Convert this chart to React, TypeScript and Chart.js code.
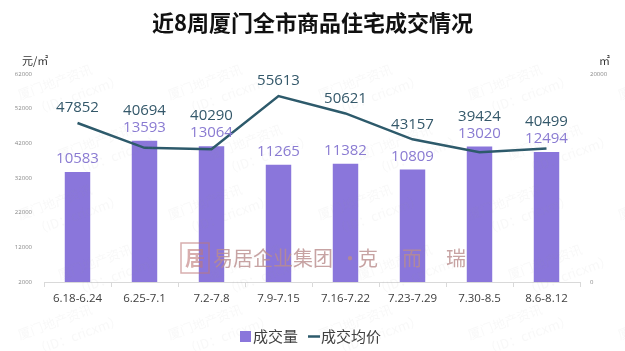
import React, { useEffect, useRef } from "react";
import { Chart, registerables } from "chart.js";

Chart.register(...registerables);

const TITLE = "近8周厦门全市商品住宅成交情况";
const categories = ["6.18-6.24", "6.25-7.1", "7.2-7.8", "7.9-7.15", "7.16-7.22", "7.23-7.29", "7.30-8.5", "8.6-8.12"];
const volume = [10583, 13593, 13064, 11265, 11382, 10809, 13020, 12494];
const avgPrice = [47852, 40694, 40290, 55613, 50621, 43157, 39424, 40499];
const leftTicks = { min: 2000, max: 62000, step: 10000 };
const rightTicks = { min: 0, max: 20000, step: 20000 };
const volumeLabel = "成交量";
const priceLabel = "成交均价";
const leftUnit = "元/㎡";
const rightUnit = "㎡";

const BAR_COLOR = "#8a76db";
const BAR_TEXT = "#8a7bd2";
const LINE_COLOR = "#2d5a6b";
const LINE_TEXT = "#34586a";
const NUM_FONT = "'Open Sans', 'Noto Sans', sans-serif";
const CJK_FONT = "'Noto Sans CJK SC', sans-serif";

const decorPlugin = {
  id: "decor",
  afterDatasetsDraw(chart: any) {
    const ctx = chart.ctx;
    ctx.save();
    ctx.fillStyle = "rgba(150,150,150,0.07)";
    ctx.font = `13px ${CJK_FONT}`;
    for (let r = 0; r < 5; r++) {
      for (let c = 0; c < 5; c++) {
        ctx.save();
        ctx.translate(20 + c * 150 + (r % 2) * 40, 100 + r * 60);
        ctx.rotate(-0.35);
        ctx.fillText("厦门地产资讯", 0, 0);
        ctx.fillText("（ID：cricxm）", 10, 20);
        ctx.restore();
      }
    }
    ctx.strokeStyle = "rgba(190,120,120,0.6)";
    ctx.lineWidth = 1.5;
    ctx.strokeRect(181, 243, 28, 30);
    ctx.fillStyle = "rgba(190,120,120,0.6)";
    ctx.font = `bold 20px ${CJK_FONT}`;
    ctx.textBaseline = "middle";
    ctx.textAlign = "center";
    ctx.fillText("居", 195, 258);
    ctx.textAlign = "left";
    ctx.fillStyle = "rgba(185,140,140,0.8)";
    ctx.font = `20px ${CJK_FONT}`;
    ctx.fillText("易居企业集团", 213, 258);
    ctx.fillText("·", 340, 258);
    ctx.fillText("克", 358, 258);
    ctx.fillText("而", 402, 258);
    ctx.fillText("瑞", 446, 258);
    ctx.restore();

    const barMeta = chart.getDatasetMeta(0);
    const lineMeta = chart.getDatasetMeta(1);
    ctx.save();
    ctx.textAlign = "center";
    ctx.textBaseline = "middle";
    ctx.font = `15px ${NUM_FONT}`;
    const barLabelY: number[] = [];
    barMeta.data.forEach((el: any, i: number) => {
      const y = el.y - 13;
      barLabelY.push(y);
      ctx.fillStyle = BAR_TEXT;
      ctx.fillText(String(volume[i]), el.x, y);
    });
    lineMeta.data.forEach((el: any, i: number) => {
      const y = Math.min(el.y - 15, barLabelY[i] - 17);
      ctx.fillStyle = LINE_TEXT;
      ctx.fillText(String(avgPrice[i]), el.x, y);
    });
    ctx.restore();
  },
  afterDraw(chart: any) {
    const ctx = chart.ctx;
    ctx.save();
    ctx.fillStyle = "#111";
    ctx.textAlign = "center";
    ctx.textBaseline = "middle";
    ctx.font = `bold 22px ${CJK_FONT}`;
    ctx.fillText(TITLE, 312.5, 23);
    ctx.fillStyle = "#333";
    ctx.font = `11px ${CJK_FONT}`;
    ctx.textAlign = "left";
    ctx.fillText(leftUnit, 22, 61);
    ctx.fillText(rightUnit, 599, 61);
    ctx.fillStyle = BAR_COLOR;
    ctx.fillRect(240, 331, 11, 11);
    ctx.font = `15px ${CJK_FONT}`;
    ctx.fillStyle = "#404040";
    ctx.fillText(volumeLabel, 253, 336);
    ctx.strokeStyle = LINE_COLOR;
    ctx.lineWidth = 2.5;
    ctx.beginPath();
    ctx.moveTo(308, 336.5);
    ctx.lineTo(320, 336.5);
    ctx.stroke();
    ctx.fillText(priceLabel, 321, 336);
    ctx.restore();
  },
};

export default function App() {
  const ref = useRef<HTMLCanvasElement>(null);
  useEffect(() => {
    document.body.style.margin = "0";
    const chart = new Chart(ref.current as HTMLCanvasElement, {
      type: "bar",
      data: {
        labels: categories,
        datasets: [
          {
            type: "bar",
            label: volumeLabel,
            data: volume,
            yAxisID: "y1",
            backgroundColor: BAR_COLOR,
            categoryPercentage: 1,
            barPercentage: 0.38,
            order: 2,
          },
          {
            type: "line",
            label: priceLabel,
            data: avgPrice,
            yAxisID: "y",
            borderColor: LINE_COLOR,
            borderWidth: 2.5,
            pointRadius: 0,
            tension: 0,
            order: 1,
          } as any,
        ],
      },
      options: {
        responsive: false,
        animation: false,
        layout: { padding: { top: 74, left: 0, right: 0, bottom: 0 } },
        plugins: { legend: { display: false }, title: { display: false }, tooltip: { enabled: false } },
        scales: {
          x: {
            afterFit: (s: any) => { s.height = 69; },
            grid: { display: true, drawOnChartArea: false, drawTicks: true, tickLength: 5, color: "#d9d9d9", offset: true },
            border: { display: true, color: "#d9d9d9" },
            ticks: { color: "#404040", padding: 5, font: { family: NUM_FONT, size: 11.5 } },
          },
          y: {
            position: "left",
            min: leftTicks.min,
            max: leftTicks.max,
            afterFit: (s: any) => { s.width = 44; },
            grid: { display: false, drawTicks: false },
            border: { display: false },
            ticks: { stepSize: leftTicks.step, color: "#888", padding: 12, font: { family: NUM_FONT, size: 6 }, callback: (v: any) => String(v) },
          },
          y1: {
            position: "right",
            min: rightTicks.min,
            max: rightTicks.max,
            afterFit: (s: any) => { s.width = 45; },
            grid: { display: false, drawTicks: false },
            border: { display: false },
            ticks: { stepSize: rightTicks.step, color: "#888", padding: 10, font: { family: NUM_FONT, size: 6 }, callback: (v: any) => String(v) },
          },
        },
      },
      plugins: [decorPlugin],
    } as any);
    return () => chart.destroy();
  }, []);
  return (
    <div style={{ width: 625, height: 351, background: "#fff" }}>
      <canvas ref={ref} width={625} height={351} />
    </div>
  );
}
